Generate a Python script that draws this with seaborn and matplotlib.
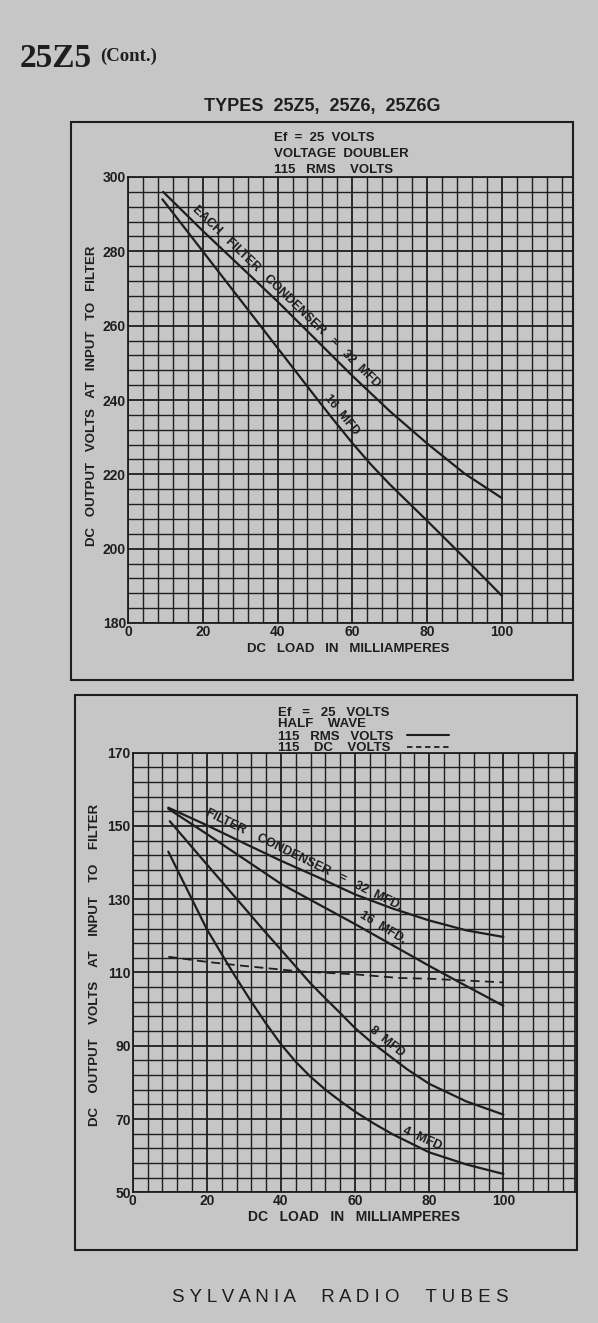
import numpy as np
import pandas as pd
import matplotlib
matplotlib.use("Agg")
import matplotlib.pyplot as plt
import seaborn as sns
from matplotlib.patches import Rectangle

W, H = 598, 1323
PAPER = "#c6c6c6"
INK = "#1e1e1e"

# top chart - voltage doubler, 115 RMS volts
dbl_load_32 = [9.4, 20, 30, 40, 50, 60, 70, 80, 90, 100]
dbl_volts_32 = [296, 285.5, 276, 266.5, 256.5, 246.5, 237, 228.3, 220.2, 213.6]
dbl_load_16 = [9.2, 20, 30, 40, 50, 55, 60, 65, 70, 80, 90, 100]
dbl_volts_16 = [294, 280, 267, 254, 241, 234.6, 228.4, 222.6, 217.3, 207.5, 197.5, 187.3]

# bottom chart - half wave, 115 RMS volts
hw_load_32 = [9.6, 20, 30, 40, 50, 60, 70, 80, 90, 100]
hw_volts_32 = [155, 150.2, 145.3, 140.5, 136, 131.3, 127.5, 124.2, 121.5, 119.7]
hw_load_16 = [9.6, 20, 30, 40, 50, 60, 70, 80, 90, 100]
hw_volts_16 = [154.7, 147.8, 141, 134.2, 128.7, 123.2, 117.5, 111.8, 106.3, 100.9]
hw_load_8 = [10, 20, 30, 35, 40, 44, 48, 52, 56, 60, 64, 68, 74, 80, 90, 100]
hw_volts_8 = [151.3, 139.5, 127.8, 121.9, 116.2, 111.6, 107, 102.9, 98.9, 94.8,
              91.3, 88.2, 83.6, 79.6, 74.8, 71.2]
hw_load_4 = [9.6, 20, 27, 32, 36, 40, 44, 48, 52, 56, 60, 65, 70, 80, 90, 100]
hw_volts_4 = [143, 121.8, 110, 102, 96, 90.4, 85.6, 81.5, 78, 74.9, 72,
              68.8, 65.9, 60.9, 57.6, 55]
# 115 DC volts (dashed)
dc_load = [9.6, 20, 30, 45, 60, 72, 80, 100]
dc_volts = [114.3, 112.9, 111.8, 110.3, 109.5, 108.5, 108.3, 107.3]

top_yticks = [180, 200, 220, 240, 260, 280, 300]
bot_yticks = [50, 70, 90, 110, 130, 150, 170]
xticks = [0, 20, 40, 60, 80, 100]

sns.set_theme(style="white")
plt.rcParams["font.family"] = ["Liberation Sans", "DejaVu Sans"]
plt.rcParams["font.weight"] = "bold"

fig = plt.figure(figsize=(W / 100, H / 100), dpi=100, facecolor=PAPER)


def fx(px):
    return px / W


def fy(py):
    return 1 - py / H


def px_axes(l, t, r, b):
    return fig.add_axes([fx(l), fy(b), (r - l) / W, (b - t) / H])


def frame(l, t, r, b):
    fig.patches.append(Rectangle((fx(l), fy(b)), (r - l) / W, (b - t) / H,
                                 transform=fig.transFigure, fill=False,
                                 edgecolor=INK, lw=1.5))


def grid_axes(ax, xmax, ylo, yhi, yticks):
    ax.set_facecolor("none")
    ax.set_xlim(0, xmax)
    ax.set_ylim(ylo, yhi)
    ax.set_xticks(xticks)
    ax.set_yticks(yticks)
    ax.set_xticks(np.arange(0, xmax, 4), minor=True)
    ax.set_yticks(np.arange(ylo, yhi + 1, 4), minor=True)
    ax.grid(which="minor", color=INK, lw=1.0)
    ax.grid(which="major", color=INK, lw=1.3)
    ax.tick_params(which="both", length=0, labelsize=10, colors=INK, pad=1.5)
    for lab in ax.get_xticklabels() + ax.get_yticklabels():
        lab.set_fontweight("bold")
    for sp in ax.spines.values():
        sp.set_color(INK)
        sp.set_linewidth(1.3)
    ax.set_xlabel("")
    ax.set_ylabel("")


def curve_label(ax, x, y, txt, angle, size=9, off=2.5):
    a = np.radians(angle)
    ax.annotate(txt, xy=(x, y), xytext=(-off * np.sin(a), off * np.cos(a)),
                textcoords="offset points", rotation=angle,
                rotation_mode="anchor", ha="center", va="bottom",
                fontsize=size, fontweight="bold", color=INK)


# ---- top chart ----
frame(71, 122, 573, 680)
ax1 = px_axes(128, 177, 573, 623)
df1 = pd.DataFrame({
    "load": dbl_load_32 + dbl_load_16,
    "volts": dbl_volts_32 + dbl_volts_16,
    "curve": ["32"] * len(dbl_load_32) + ["16"] * len(dbl_load_16),
})
sns.lineplot(data=df1, x="load", y="volts", units="curve", estimator=None,
             color=INK, lw=1.6, ax=ax1)
grid_axes(ax1, 119, 180, 300, top_yticks)

curve_label(ax1, 40.5, 266, "EACH   FILTER   CONDENSER   =   32  MFD", -44)
curve_label(ax1, 55, 234.3, "16  MFD", -51)

for txt, yb in [("Ef  =  25  VOLTS", 141), ("VOLTAGE  DOUBLER", 157),
                ("115   RMS    VOLTS", 173)]:
    fig.text(fx(274), fy(yb), txt, fontsize=9.5, fontweight="bold",
             color=INK, va="baseline", ha="left")

fig.text(fx(348), fy(652), "DC   LOAD   IN   MILLIAMPERES", fontsize=9.5,
         fontweight="bold", color=INK, ha="center", va="baseline")
fig.text(fx(92), fy(396), "DC   OUTPUT   VOLTS   AT   INPUT   TO   FILTER",
         fontsize=9.5, fontweight="bold", color=INK, rotation=90,
         ha="center", va="center")

# ---- bottom chart ----
frame(75, 695, 577, 1250)
ax2 = px_axes(132.7, 752.7, 575, 1192.3)
df2 = pd.DataFrame({
    "load": hw_load_32 + hw_load_16 + hw_load_8 + hw_load_4,
    "volts": hw_volts_32 + hw_volts_16 + hw_volts_8 + hw_volts_4,
    "curve": (["32"] * len(hw_load_32) + ["16"] * len(hw_load_16)
              + ["8"] * len(hw_load_8) + ["4"] * len(hw_load_4)),
})
sns.lineplot(data=df2, x="load", y="volts", units="curve", estimator=None,
             color=INK, lw=1.6, ax=ax2)
sns.lineplot(x=dc_load, y=dc_volts, color=INK, lw=1.3, ax=ax2,
             linestyle=(0, (5, 3)))
grid_axes(ax2, 119.3, 50, 170, bot_yticks)

curve_label(ax2, 45, 138.3, "FILTER    CONDENSER   =   32  MFD.", -26)
curve_label(ax2, 66, 120, "16  MFD.", -31)
curve_label(ax2, 67, 89, "8  MFD", -39)
curve_label(ax2, 77, 62.2, "4  MFD", -24)

for txt, yb in [("Ef   =   25   VOLTS", 716), ("HALF    WAVE", 727),
                ("115   RMS   VOLTS", 740), ("115    DC    VOLTS", 751)]:
    fig.text(fx(278), fy(yb), txt, fontsize=9.5, fontweight="bold",
             color=INK, va="baseline", ha="left")
fig.add_artist(plt.Line2D([fx(407), fx(449)], [fy(735), fy(735)],
                          color=INK, lw=1.5))
fig.add_artist(plt.Line2D([fx(407), fx(449)], [fy(747), fy(747)],
                          color=INK, lw=1.3, linestyle=(0, (3, 2))))

fig.text(fx(354), fy(1221), "DC   LOAD   IN   MILLIAMPERES", fontsize=10,
         fontweight="bold", color=INK, ha="center", va="baseline")
fig.text(fx(95), fy(965), "DC    OUTPUT    VOLTS    AT    INPUT    TO    FILTER",
         fontsize=9.5, fontweight="bold", color=INK, rotation=90,
         ha="center", va="center")

# ---- page text ----
fig.text(fx(20), fy(67), "25Z5", fontsize=24, fontweight="bold", color=INK,
         family=["Liberation Serif", "DejaVu Serif"], va="baseline")
fig.text(fx(100), fy(61), "(Cont.)", fontsize=13.5, fontweight="bold",
         color=INK, family=["Liberation Serif", "DejaVu Serif"], va="baseline")
fig.text(fx(322), fy(111), "TYPES  25Z5,  25Z6,  25Z6G", fontsize=13,
         fontweight="bold", color=INK, ha="center", va="baseline")
fig.text(fx(340), fy(1302), "S Y L V A N I A     R A D I O     T U B E S",
         fontsize=13.5, fontweight="normal", color=INK, ha="center",
         va="baseline")

fig.savefig("out.png", dpi=100, facecolor=PAPER)
